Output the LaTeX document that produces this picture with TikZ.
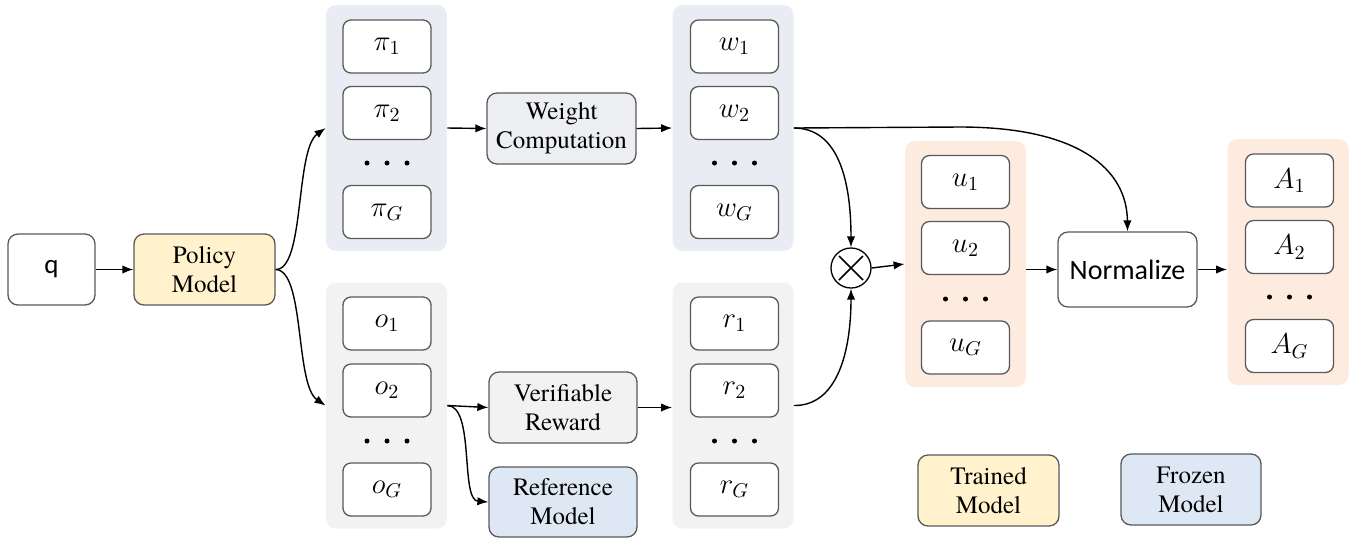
\documentclass[tikz,border=0pt]{standalone}
\usepackage{fontspec}
\newfontfamily\tnr{texgyretermes-regular.otf}
\newfontfamily\calib{Carlito}
\usetikzlibrary{arrows.meta}
\definecolor{bordc}{HTML}{595959}
\definecolor{trainc}{HTML}{FFF2CC}
\definecolor{frozc}{HTML}{DEE8F4}
\definecolor{bluegrp}{HTML}{E9EDF3}
\definecolor{graygrp}{HTML}{F2F2F2}
\definecolor{wcfill}{HTML}{ECEEF2}
\definecolor{peach}{HTML}{FDEBE0}
\begin{document}
\begin{tikzpicture}[x=0.5pt,y=-0.5pt,
  grp/.style={rectangle, rounded corners=5pt, draw=none, minimum width=60.5pt, minimum height=123pt, inner sep=0pt},
  item/.style={rectangle, rounded corners=4pt, draw=bordc, line width=0.65pt, fill=white, minimum width=44pt, minimum height=26.5pt, inner sep=0pt, font=\fontsize{14}{16}\selectfont},
  proc/.style={rectangle, rounded corners=5pt, draw=bordc, line width=0.65pt, minimum height=35.5pt, inner sep=0pt, align=center, font=\tnr\fontsize{12.5}{14.5}\selectfont},
  dot/.style={circle, fill=black, inner sep=0pt, minimum size=2.5pt},
  arr/.style={-{Latex[length=5.5pt,width=4.2pt]}, line width=0.7pt}]
\useasboundingbox (0,0) rectangle (1357,538);

% groups
\node[grp, fill=bluegrp] (pigrp) at (386.5,128) {};
\node[grp, fill=graygrp] (ogrp) at (386.5,405.5) {};
\node[grp, fill=bluegrp] (wgrp) at (733,128) {};
\node[grp, fill=graygrp] (rgrp) at (733,405.5) {};
\node[grp, fill=peach] (ugrp) at (965.5,264) {};
\node[grp, fill=peach] (agrp) at (1288,262) {};

% items
\node[item] (pi1) at (387,46.5) {$\pi_1$};
\node[item] (pi2) at (387,113) {$\pi_2$};
\node[item] (piG) at (387,212) {$\pi_G$};
\node[dot] (pd1) at (367,163) {}; \node[dot] (pd2) at (387,163) {}; \node[dot] (pd3) at (407,163) {};

\node[item] (o1) at (387,323.5) {$o_1$};
\node[item] (o2) at (387,390.5) {$o_2$};
\node[item] (oG) at (387,489.5) {$o_G$};
\node[dot] (od1) at (367,441) {}; \node[dot] (od2) at (387,441) {}; \node[dot] (od3) at (407,441) {};

\node[item] (w1) at (734.5,46.5) {$w_1$};
\node[item] (w2) at (734.5,113) {$w_2$};
\node[item] (wG) at (734.5,212) {$w_G$};
\node[dot] (wd1) at (714.5,163) {}; \node[dot] (wd2) at (734.5,163) {}; \node[dot] (wd3) at (754.5,163) {};

\node[item] (r1) at (734.5,323.5) {$r_1$};
\node[item] (r2) at (734.5,390.5) {$r_2$};
\node[item] (rG) at (734.5,489.5) {$r_G$};
\node[dot] (rd1) at (714.5,441) {}; \node[dot] (rd2) at (734.5,441) {}; \node[dot] (rd3) at (754.5,441) {};

\node[item] (u1) at (965.5,182) {$u_1$};
\node[item] (u2) at (965.5,248) {$u_2$};
\node[item] (uG) at (965.5,347.5) {$u_G$};
\node[dot] (ud1) at (945.5,299) {}; \node[dot] (ud2) at (965.5,299) {}; \node[dot] (ud3) at (985.5,299) {};

\node[item] (A1) at (1289.5,180.5) {$A_1$};
\node[item] (A2) at (1289.5,247) {$A_2$};
\node[item] (AG) at (1289.5,346) {$A_G$};
\node[dot] (ad1) at (1269.5,297) {}; \node[dot] (ad2) at (1289.5,297) {}; \node[dot] (ad3) at (1309.5,297) {};

% process boxes
\node[proc, fill=white, minimum width=43.5pt, font=\calib\fontsize{13.5}{15}\selectfont] (q) at (51.5,269.5) {q};
\node[proc, fill=trainc, minimum width=70.5pt] (pol) at (204.5,269.5) {Policy\\Model};
\node[proc, fill=wcfill, minimum width=74.5pt] (wc) at (561.5,128.5) {Weight\\Computation};
\node[proc, fill=graygrp, minimum width=74pt] (vr) at (563,407.5) {Verifiable\\Reward};
\node[proc, fill=frozc, minimum width=74pt, minimum height=35pt] (ref) at (563,502) {Reference\\Model};
\node[proc, fill=white, minimum width=69.5pt, minimum height=37.5pt, font=\calib\fontsize{14}{16}\selectfont] (norm) at (1127.5,269.5) {Normalize};
\node[proc, fill=trainc, minimum width=70.5pt] (trained) at (988.5,490.5) {Trained\\Model};
\node[proc, fill=frozc, minimum width=70pt] (frozen) at (1191,489.5) {Frozen\\Model};

% otimes
\node[circle, draw=black, line width=0.65pt, fill=white, minimum size=20pt, inner sep=0pt] (ot) at (851,268) {};
\draw[line width=0.85pt] ([shift={(-6pt,-6pt)}]ot.center) -- ([shift={(6pt,6pt)}]ot.center);
\draw[line width=0.85pt] ([shift={(-6pt,6pt)}]ot.center) -- ([shift={(6pt,-6pt)}]ot.center);

% connectors
\draw[arr] (q.east) -- (pol.west);
\draw[arr] (pol.east) .. controls (305,270) and (295,150) .. (pigrp.west);
\draw[arr] (pol.east) .. controls (305,270) and (295,385) .. (ogrp.west);
\draw[arr] (pigrp.east) -- (wc.west);
\draw[arr] (wc.east) -- (wgrp.west);
\draw[arr] (ogrp.east) -- (vr.west);
\draw[arr] (ogrp.east) .. controls (475,406) and (460,500) .. (ref.west);
\draw[arr] (vr.east) -- (rgrp.west |- vr.east);
\draw[arr] (wgrp.east) .. controls (838,128) and (851,180) .. (ot.north);
\draw[arr] (rgrp.east) .. controls (838,406) and (851,350) .. (ot.south);
\draw[arr] (wgrp.east) -- (960,127) .. controls (1080,127) and (1127,170) .. (norm.north);
\draw[arr] (ot.east) -- (ugrp.west);
\draw[arr] (ugrp.east |- norm.west) -- (norm.west);
\draw[arr] (norm.east) -- (agrp.west |- norm.east);
\end{tikzpicture}
\end{document}
